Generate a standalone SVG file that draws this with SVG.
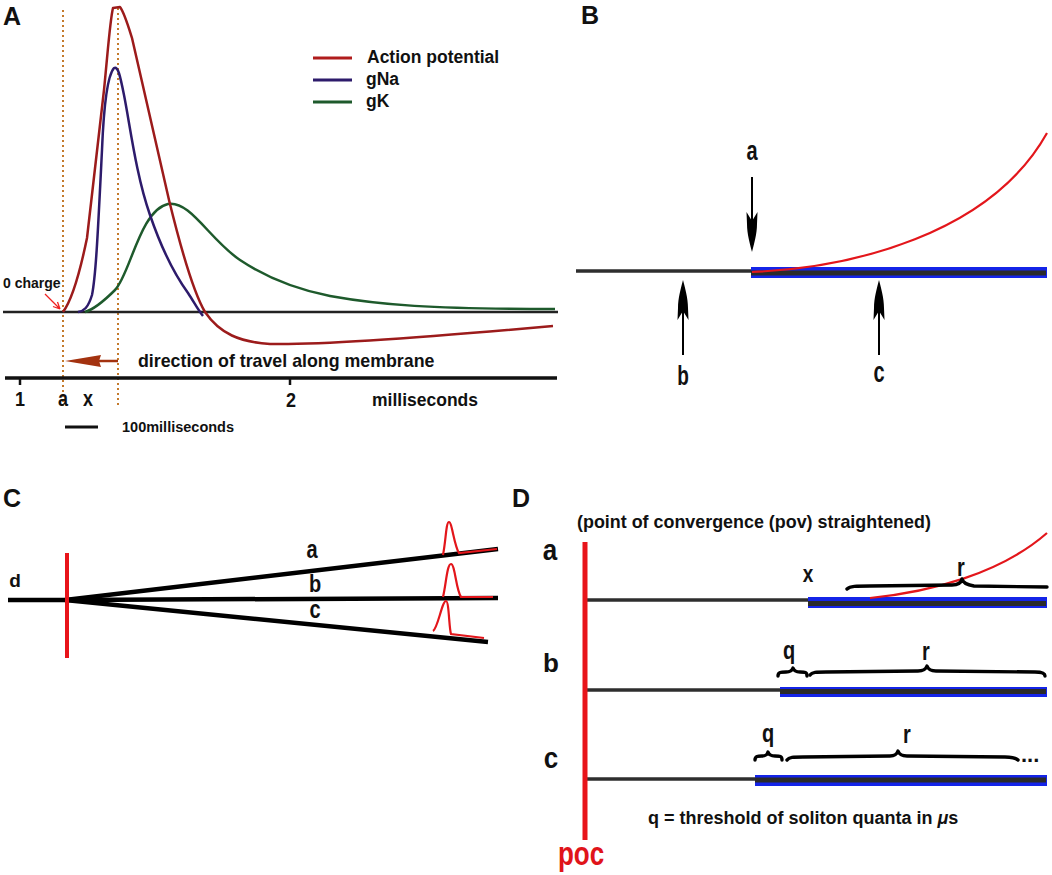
<svg xmlns="http://www.w3.org/2000/svg" width="1052" height="875" viewBox="0 0 1052 875">
<defs>
<style>
text{font-family:"Liberation Sans",Arial,sans-serif;font-weight:bold;fill:#111}
.panel{font-size:25px}
.ap{fill:none;stroke:#9c1b1b;stroke-width:2.5;stroke-linejoin:round}
.na{fill:none;stroke:#2d1b6b;stroke-width:2.5;stroke-linejoin:round}
.gk{fill:none;stroke:#1e5a2c;stroke-width:2.5;stroke-linejoin:round}
.dot{stroke:#c47a2c;stroke-width:2;stroke-dasharray:2 3}
.gray{stroke:#2e2e2e;stroke-width:3.5}
.blue{fill:#1424e8}
.inner{stroke:#2a2a2a;stroke-width:5}
.red{fill:none;stroke:#e3161b;stroke-width:2.2}
.brace{fill:none;stroke:#000;stroke-width:3.4;stroke-linecap:round;stroke-linejoin:round}
.cl{stroke:#000;stroke-width:4.5}
</style>
<path id="headDown" d="M0,0 C-2,-8 -5,-18 -5,-28 L-5.5,-40 L0,-31 L5.5,-40 L5,-28 C5,-18 2,-8 0,0 Z" fill="#000"/>
</defs>
<rect width="1052" height="875" fill="#fff"/>

<!-- Panel A -->
<g id="panelA">
  <text class="panel" x="3" y="25">A</text>
  <g id="A-guides">
    <line class="dot" x1="63" y1="10" x2="63" y2="406"/>
    <line class="dot" x1="118" y1="8" x2="118" y2="405"/>
  </g>
  <line id="A-baseline" x1="3" y1="312" x2="558" y2="312" stroke="#222" stroke-width="2.5"/>
  <g id="A-curves">
    <path class="gk" d="M85,312 C95,309 105,300 115,290 C130,275 140,210 168,204 C190,200 210,240 240,260 C270,280 300,290 330,296 C380,305 430,309 555,309"/>
    <path class="na" d="M78,312 C84,311 88,308 92,295 C96,275 98,230 102,150 C104,100 108,75 114,68 C118,66 120,75 124,95 C130,125 136,175 150,215 C162,250 175,275 188,293 C194,302 198,310 203,316"/>
    <path class="ap" d="M63,312 C72,300 80,272 87,238 L104,90 C108,50 110,20 113,8 L120,7 C124,12 127,22 132,38 L169,200 C180,245 192,290 205,312 C220,334 240,342 270,344 C320,345 420,338 553,326"/>
  </g>
  <g id="A-legend">
    <line x1="313" y1="58" x2="352" y2="58" stroke="#b01c1c" stroke-width="3"/>
    <line x1="313" y1="80" x2="352" y2="80" stroke="#2d1b6b" stroke-width="3"/>
    <line x1="313" y1="102" x2="352" y2="102" stroke="#1e5a2c" stroke-width="3"/>
    <text x="367" y="63" font-size="17.5">Action potential</text>
    <text x="366" y="85" font-size="17.5">gNa</text>
    <text x="366" y="107" font-size="17.5">gK</text>
  </g>
  <g id="A-zero">
    <text x="3" y="288" font-size="14">0 charge</text>
    <path d="M45,294 L60,309 M60,309 L53,306.5 M60,309 L57.5,302" stroke="#f02020" stroke-width="1.3" fill="none"/>
  </g>
  <g id="A-direction">
    <path d="M65,361 L101,355 L99,361 L101,367 Z" fill="#a3320f"/>
    <line x1="99" y1="361" x2="118" y2="361" stroke="#a3320f" stroke-width="2.5"/>
    <text x="138" y="367" font-size="17.8">direction of travel along membrane</text>
  </g>
  <g id="A-axis">
    <line x1="5" y1="378" x2="557" y2="378" stroke="#111" stroke-width="3.5"/>
    <line x1="20" y1="378" x2="20" y2="385" stroke="#111" stroke-width="2.5"/>
    <line x1="290" y1="378" x2="290" y2="385" stroke="#111" stroke-width="2.5"/>
    <text transform="translate(20,406) scale(1,1.1)" font-size="18" text-anchor="middle">1</text>
    <text transform="translate(63,406) scale(1,1.2)" font-size="18" text-anchor="middle">a</text>
    <text transform="translate(88,406) scale(1,1.2)" font-size="18" text-anchor="middle">x</text>
    <text transform="translate(291,407) scale(1,1.1)" font-size="18" text-anchor="middle">2</text>
    <text x="372" y="406" font-size="17.5">milliseconds</text>
    <line x1="65" y1="427" x2="98" y2="427" stroke="#111" stroke-width="3"/>
    <text x="122" y="432" font-size="14.5">100milliseconds</text>
  </g>
</g>

<!-- Panel B -->
<g id="panelB">
  <text class="panel" x="581" y="24">B</text>
  <g id="B-fibre">
    <line class="gray" x1="576" y1="271" x2="752" y2="271"/>
    <rect class="blue" x="751" y="267" width="296" height="11"/>
    <line class="inner" x1="751" y1="273" x2="1046" y2="273"/>
    <path class="red" d="M752,272 C850,268 990,235 1047,133"/>
  </g>
  <g id="B-labels">
    <text transform="translate(752,160) scale(1,1.4)" font-size="20" text-anchor="middle">a</text>
    <text transform="translate(683,385) scale(1,1.45)" font-size="19" text-anchor="middle">b</text>
    <text transform="translate(879,382) scale(1,1.45)" font-size="20" text-anchor="middle">c</text>
  </g>
</g>

<!-- Panel C -->
<g id="panelC">
  <text class="panel" x="3" y="507">C</text>
  <g id="C-branches">
    <line class="cl" x1="8" y1="600" x2="67" y2="600"/>
    <line class="cl" x1="65" y1="600" x2="498" y2="549"/>
    <line class="cl" x1="65" y1="600" x2="498" y2="598"/>
    <line class="cl" x1="65" y1="600" x2="488" y2="642"/>
    <line x1="67" y1="553" x2="67" y2="658" stroke="#e8141a" stroke-width="4"/>
  </g>
  <g id="C-pulses">
    <path class="red" d="M443,555 C446,540 446,522 449,522 C452,522 454,545 459,553 L497,549"/>
    <path class="red" d="M443,597 C446,585 447,564 451,564 C455,564 456,590 461,597 L493,597"/>
    <path class="red" d="M433,631 C438,628 442,601 446,601 C449,601 449,628 451,634 L484,638"/>
  </g>
  <g id="C-labels">
    <text x="15" y="587" font-size="19" text-anchor="middle">d</text>
    <text transform="translate(312,558) scale(1,1.3)" font-size="20" text-anchor="middle">a</text>
    <text transform="translate(315,592) scale(1,1.2)" font-size="20" text-anchor="middle">b</text>
    <text transform="translate(315,618) scale(1,1.3)" font-size="20" text-anchor="middle">c</text>
  </g>
</g>

<!-- Panel D -->
<g id="panelD">
  <text class="panel" x="512" y="507">D</text>
  <text x="577" y="528" font-size="17.9">(point of convergence (pov) straightened)</text>
  <g id="D-rowA">
    <line class="gray" x1="587" y1="600" x2="808" y2="600"/>
    <rect class="blue" x="808" y="597" width="239" height="11"/>
    <line class="inner" x1="808" y1="603.5" x2="1046" y2="603.5"/>
    <path class="red" d="M870,598 C930,592 1000,574 1047,533"/>
    <path class="brace" d="M847,589 C850,586 856,586 870,586 L952,585 C958,585 961,583 962,579 C963,583 967,585 974,586 L1047,587"/>
    <text transform="translate(808,582) scale(1,1.3)" font-size="19" text-anchor="middle">x</text>
    <text transform="translate(961,576) scale(1,1.3)" font-size="20" text-anchor="middle">r</text>
    <text transform="translate(550,560) scale(1,1.1)" font-size="26" text-anchor="middle">a</text>
  </g>
  <g id="D-rowB">
    <line class="gray" x1="587" y1="690" x2="780" y2="690"/>
    <rect class="blue" x="780" y="687" width="267" height="10"/>
    <line class="inner" x1="780" y1="691.5" x2="1046" y2="691.5"/>
    <path class="brace" d="M778,676 C778,672 781,672 786,672 C790,672 792,671 793,668 C794,671 796,672 800,672 C805,672 807,672 807,676"/>
    <path class="brace" d="M810,675 C812,672 816,672 826,672 L918,671 C923,671 926,669 927,666 C928,669 931,671 936,671 L1035,672 C1042,672 1045,673 1045,676"/>
    <text transform="translate(789,659) scale(1,1.3)" font-size="20" text-anchor="middle">q</text>
    <text transform="translate(926,660) scale(1,1.3)" font-size="20" text-anchor="middle">r</text>
    <text x="551" y="672" font-size="26" text-anchor="middle">b</text>
  </g>
  <g id="D-rowC">
    <line class="gray" x1="587" y1="779" x2="755" y2="779"/>
    <rect class="blue" x="755" y="775" width="292" height="11"/>
    <line class="inner" x1="755" y1="780" x2="1046" y2="780"/>
    <path class="brace" d="M755,760 C755,756 758,756 762,756 C766,756 767,755 768,752 C769,755 771,756 775,756 C780,756 782,756 782,760"/>
    <path class="brace" d="M787,760 C789,757 793,757 803,757 L890,756 C895,756 897,754 898,751 C899,754 902,756 907,756 L1005,757 C1013,757 1016,758 1018,760"/>
    <text transform="translate(768,742) scale(1,1.3)" font-size="20" text-anchor="middle">q</text>
    <text transform="translate(907,743) scale(1,1.3)" font-size="20" text-anchor="middle">r</text>
    <text x="1021" y="762" font-size="22">...</text>
    <text transform="translate(551,768) scale(1,1.1)" font-size="26" text-anchor="middle">c</text>
  </g>
  <line id="D-poc-line" x1="585" y1="542" x2="585" y2="840" stroke="#e8141a" stroke-width="5"/>
  <text transform="translate(581,865) scale(1,1.25)" font-size="26" text-anchor="middle" style="fill:#e0141a">poc</text>
  <text x="648" y="824" font-size="18">q = threshold of soliton quanta in <tspan font-style="italic">μ</tspan>s</text>
</g>

<!-- connectors: arrows -->
<g id="connectors">
  <line x1="752" y1="177" x2="752" y2="226" stroke="#000" stroke-width="2"/>
  <use href="#headDown" transform="translate(752,252)"/>
  <line x1="683" y1="306" x2="683" y2="355" stroke="#000" stroke-width="2"/>
  <use href="#headDown" transform="translate(683,280) rotate(180)"/>
  <line x1="879" y1="306" x2="879" y2="355" stroke="#000" stroke-width="2"/>
  <use href="#headDown" transform="translate(879,280) rotate(180)"/>
</g>
</svg>
